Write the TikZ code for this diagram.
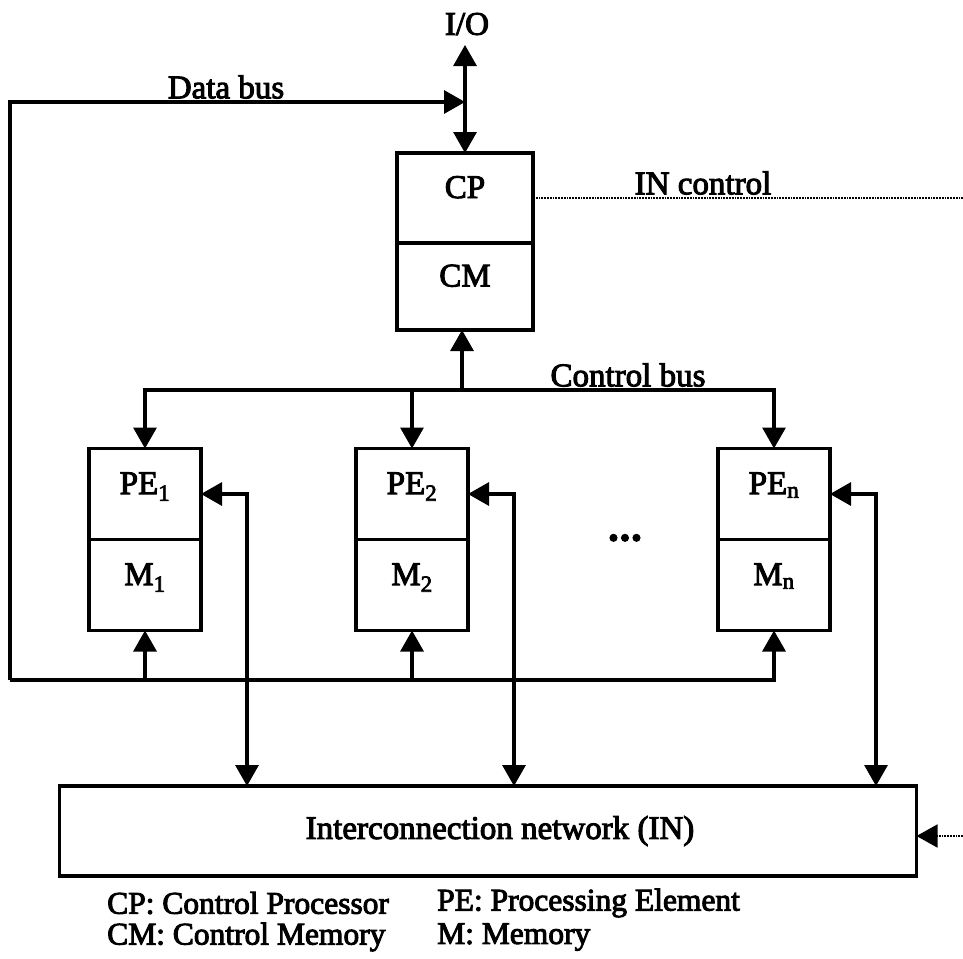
\documentclass[tikz,border=0pt]{standalone}
\usepackage{fontspec}
\setmainfont{Liberation Serif}[FakeBold=3]
\usetikzlibrary{arrows.meta, positioning, calc}

\begin{document}
\begin{tikzpicture}[x=1pt, y=-1pt,
    every node/.style={font=\fontsize{33}{38}\selectfont},
    half/.style={draw, line width=3.2pt, inner sep=0pt, outer sep=0pt,
        text height=23pt, text depth=23pt},
    cphalf/.style={half, minimum width=136pt},
    pehalf/.style={half, minimum width=112pt, minimum height=91pt},
    bus/.style={line width=3.2pt},
    arr/.style={bus, -{Triangle[length=21pt, width=23pt]}},
    dbl/.style={bus, {Triangle[length=21pt, width=23pt]}-{Triangle[length=21pt, width=23pt]}},
    ctl/.style={line width=1.8pt, densely dotted},
    legend/.style={anchor=west, inner sep=0pt, font=\fontsize{31.5}{36}\selectfont},
]
\useasboundingbox (0,0) rectangle (963,958);

% control processor and its memory
\node[cphalf, minimum height=90pt] (cp) at (465,198) {CP};
\node[cphalf, minimum height=87pt, below=0pt of cp] (cm) {CM};

% processing elements
\node[pehalf] (pe1) at (145,494) {PE\textsubscript{1}};
\node[pehalf, below=0pt of pe1] (m1) {M\textsubscript{1}};
\node[pehalf] (pe2) at (412,494) {PE\textsubscript{2}};
\node[pehalf, below=0pt of pe2] (m2) {M\textsubscript{2}};
\node[pehalf] (pen) at (774,494) {PE\textsubscript{n}};
\node[pehalf, below=0pt of pen] (mn) {M\textsubscript{n}};
\node (dots) at (625,541) {\fontsize{30}{30}\selectfont\textbullet\hspace{1pt}\textbullet\hspace{1pt}\textbullet};

% interconnection network
\node[draw, line width=3.2pt, outer sep=0pt, minimum width=857pt, minimum height=90pt]
    (icn) at (488,831) {\hspace{24pt}Interconnection network (IN)};

% labels
\node (io) at (467,24) {I/O};
\node (dbus) at (226,87) {Data bus};
\node (inctl) at (703,183) {IN control};
\node (cbus) at (628,375) {Control bus};

% I/O and data bus
\coordinate (iotip) at (465,45);
\coordinate (dbtop) at (10,102);
\coordinate (dbbot) at (10,680);
\draw[dbl] (cp.north) -- (iotip);
\draw[arr] (dbbot) -- (dbtop) -- (dbtop -| cp.north);
\draw[arr] (dbbot) -- (dbbot -| mn.south) -- (mn.south);
\foreach \m in {m1, m2}{
    \draw[arr] (dbbot -| \m.south) -- (\m.south);
}

% control bus
\coordinate (cb) at (462,390);
\draw[arr] (cb) -- (cb |- cm.south);
\draw[arr] (cb) -| (pe1.north);
\draw[arr] (cb) -| (pen.north);
\draw[arr] (cb -| pe2.north) -- (pe2.north);

% links to the network
\foreach \p in {pe1, pe2, pen}{
    \coordinate[right=46pt of \p.east] (\p-link);
    \draw[dbl] (\p.east) -- (\p-link) -- (\p-link |- icn.north);
}

% network control
\coordinate (ctlout) at (963,198);
\coordinate (ctlin) at (963,836);
\draw[ctl] (cp.east) -- (ctlout);
\draw[ctl, -{Triangle[length=21pt, width=23pt]}] (ctlin) -- (ctlin -| icn.east);

% legend
\node[legend] (lcp) at (107,903) {CP: Control Processor};
\node[legend] (lcm) at (107,937) {CM: Control Memory};
\node[legend] (lpe) at (437,903) {PE: Processing Element};
\node[legend] (lm) at (437,937) {M: Memory};
\end{tikzpicture}
\end{document}
